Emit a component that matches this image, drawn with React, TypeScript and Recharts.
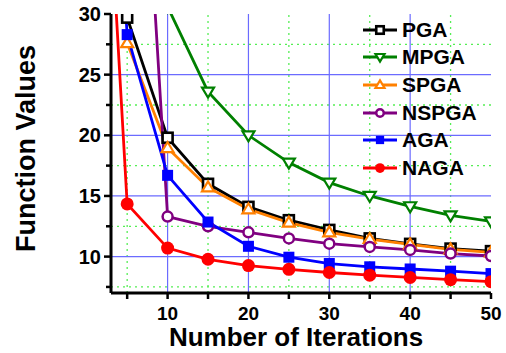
import React from 'react';
import {
  LineChart, Line, XAxis, YAxis, ReferenceLine,
} from 'recharts';

const iterations = [1, 5, 10, 15, 20, 25, 30, 35, 40, 45, 50];
const pga = [70, 29.7, 19.8, 16.0, 14.1, 13.0, 12.2, 11.5, 11.05, 10.66, 10.45];
const mpga = [90, 45, 30.6, 23.6, 20.0, 17.75, 16.1, 15.0, 14.15, 13.4, 12.9];
const spga = [null, 27.6, 18.95, 15.7, 13.9, 12.8, 12.0, 11.45, 11.0, 10.6, 10.35];
const nspga = [null, 68, 13.3, 12.5, 12.0, 11.5, 11.07, 10.8, 10.55, 10.25, 10.05];
const aga = [68, 28.3, 16.7, 12.85, 10.85, 9.95, 9.43, 9.16, 8.98, 8.8, 8.6];
const naga = [61, 14.34, 10.7, 9.78, 9.26, 8.95, 8.69, 8.47, 8.28, 8.1, 7.93];

const xTicks = [5, 10, 15, 20, 25, 30, 35, 40, 45, 50];
const xMajor = [10, 20, 30, 40, 50];
const yTicks = [7.5, 10, 12.5, 15, 17.5, 20, 22.5, 25, 27.5, 30];
const yMajor = [10, 15, 20, 25, 30];
const xGridMajor = [10, 20, 30, 40];
const xGridMinor = [5, 15, 25, 35, 45];
const yGridMajor = [10, 15, 20, 25];
const yGridMinor = [7.5, 12.5, 17.5, 22.5, 27.5];

const series = [
  { key: 'PGA', values: pga, color: '#000000', shape: 'square-open' },
  { key: 'MPGA', values: mpga, color: '#008000', shape: 'tri-down-open' },
  { key: 'SPGA', values: spga, color: '#ff8000', shape: 'tri-up-open' },
  { key: 'NSPGA', values: nspga, color: '#800080', shape: 'circle-open' },
  { key: 'AGA', values: aga, color: '#0000ff', shape: 'square-filled' },
  { key: 'NAGA', values: naga, color: '#ff0000', shape: 'circle-filled' },
];

const data = iterations.map((it, i) => {
  const row: any = { it };
  series.forEach((s) => { row[s.key] = s.values[i]; });
  return row;
});

const FONT = '"Liberation Sans", Arial, Helvetica, sans-serif';

function Marker({ shape, color, cx, cy, s = 1 }: any) {
  if (cx == null || cy == null || isNaN(cx) || isNaN(cy)) return <g />;
  switch (shape) {
    case 'square-open':
      return <rect x={cx - 5 * s} y={cy - 5 * s} width={10 * s} height={10 * s} fill="#fff" stroke={color} strokeWidth={2.6} />;
    case 'tri-down-open':
      return <polygon points={`${cx - 6 * s},${cy - 4 * s} ${cx + 6 * s},${cy - 4 * s} ${cx},${cy + 6 * s}`} fill="#fff" stroke={color} strokeWidth={2.2} />;
    case 'tri-up-open':
      return <polygon points={`${cx - 6 * s},${cy + 4 * s} ${cx + 6 * s},${cy + 4 * s} ${cx},${cy - 6 * s}`} fill="#fff" stroke={color} strokeWidth={2.2} />;
    case 'circle-open':
      return <circle cx={cx} cy={cy} r={5 * s} fill="#fff" stroke={color} strokeWidth={2.5} />;
    case 'square-filled':
      return <rect x={cx - 5.5 * s} y={cy - 5.5 * s} width={11 * s} height={11 * s} fill={color} />;
    case 'circle-filled':
      return <circle cx={cx} cy={cy} r={6.5 * s} fill={color} />;
    default:
      return <g />;
  }
}

const YTick = (props: any) => {
  const { x, y, payload } = props;
  const major = yMajor.includes(payload.value);
  return (
    <g>
      <line x1={x} x2={x - (major ? 7 : 5)} y1={y} y2={y} stroke="#000" strokeWidth={2.5} />
      {major && (
        <text x={x - 10} y={y + 7} textAnchor="end" fontFamily={FONT} fontWeight="bold" fontSize={20} fill="#000">
          {payload.value}
        </text>
      )}
    </g>
  );
};

const XTick = (props: any) => {
  const { x, y, payload } = props;
  const major = xMajor.includes(payload.value);
  return (
    <g>
      <line x1={x} x2={x} y1={y} y2={y + 6} stroke="#000" strokeWidth={2.5} />
      {major && (
        <text x={x} y={y + 27} textAnchor="middle" fontFamily={FONT} fontWeight="bold" fontSize={19} fill="#000">
          {payload.value}
        </text>
      )}
    </g>
  );
};

const LegendBox = () => (
  <div style={{ position: 'absolute', left: 362, top: 16, width: 140, fontFamily: FONT }}>
    {series.map((s) => (
      <div key={s.key} style={{ display: 'flex', alignItems: 'center', height: 27.6 }}>
        <svg width={40} height={20} style={{ display: 'block' }}>
          <line x1={1} x2={35} y1={10} y2={10} stroke={s.color} strokeWidth={3} />
          <Marker shape={s.shape} color={s.color} cx={18} cy={10} s={0.75} />
        </svg>
        <span style={{ fontWeight: 'bold', fontSize: 21, color: '#000', lineHeight: '20px' }}>{s.key}</span>
      </div>
    ))}
  </div>
);

export default function App() {
  return (
    <div style={{ position: 'absolute', left: 0, top: 0, width: 506, height: 353, background: '#fff' }}>
      <LineChart width={506} height={353} data={data} margin={{ top: 14, right: 15, bottom: 0, left: 0 }}>
        {xGridMinor.map((v) => (
          <ReferenceLine key={`xm${v}`} x={v} stroke="#55ee55" strokeWidth={1.3} strokeDasharray="2 4" zIndex={-50} />
        ))}
        {yGridMinor.map((v) => (
          <ReferenceLine key={`ym${v}`} y={v} stroke="#55ee55" strokeWidth={1.3} strokeDasharray="2 4" zIndex={-50} />
        ))}
        {xGridMajor.map((v) => (
          <ReferenceLine key={`xM${v}`} x={v} stroke="#6b6bff" strokeWidth={1.2} zIndex={-50} />
        ))}
        {yGridMajor.map((v) => (
          <ReferenceLine key={`yM${v}`} y={v} stroke="#6b6bff" strokeWidth={1.2} zIndex={-50} />
        ))}
        <XAxis
          dataKey="it"
          type="number"
          domain={[3, 50]}
          allowDataOverflow
          ticks={xTicks}
          interval={0}
          height={60}
          tickSize={0}
          tickMargin={0}
          tickLine={false}
          axisLine={{ stroke: '#000', strokeWidth: 3 }}
          tick={<XTick />}
          label={{
            content: (p: any) => {
              const vb = p.viewBox;
              return (
                <text x={vb.x + vb.width / 2 - 5} y={vb.y + 53} textAnchor="middle" fontFamily={FONT} fontWeight="bold" fontSize={26} fill="#000">
                  Number of Iterations
                </text>
              );
            },
          }}
        />
        <XAxis xAxisId="top" orientation="top" type="number" domain={[3, 50]} height={0} tick={false} tickLine={false} axisLine={{ stroke: '#000', strokeWidth: 3 }} />
        <YAxis
          type="number"
          domain={[7, 30]}
          allowDataOverflow
          ticks={yTicks}
          interval={0}
          width={111}
          tickSize={0}
          tickMargin={0}
          tickLine={false}
          axisLine={{ stroke: '#000', strokeWidth: 3 }}
          tick={<YTick />}
          label={{
            content: (p: any) => {
              const vb = p.viewBox;
              const cx = 26;
              const cy = vb.y + vb.height / 2 - 5;
              return (
                <text x={cx} y={cy} transform={`rotate(-90, ${cx}, ${cy})`} textAnchor="middle" dominantBaseline="central" fontFamily={FONT} fontWeight="bold" fontSize={27} fill="#000">
                  Function Values
                </text>
              );
            },
          }}
        />
        <YAxis yAxisId="right" orientation="right" type="number" domain={[7, 30]} width={0} tick={false} tickLine={false} axisLine={{ stroke: '#000', strokeWidth: 3 }} />
        {series.map((s) => (
          <Line
            key={s.key}
            dataKey={s.key}
            type="linear"
            stroke={s.color}
            strokeWidth={2.8}
            isAnimationActive={false}
            connectNulls={false}
            dot={(p: any) => <Marker key={`${s.key}-${p.index}`} shape={s.shape} color={s.color} cx={p.cx} cy={p.cy} />}
            activeDot={false}
          />
        ))}
      </LineChart>
      <LegendBox />
    </div>
  );
}
